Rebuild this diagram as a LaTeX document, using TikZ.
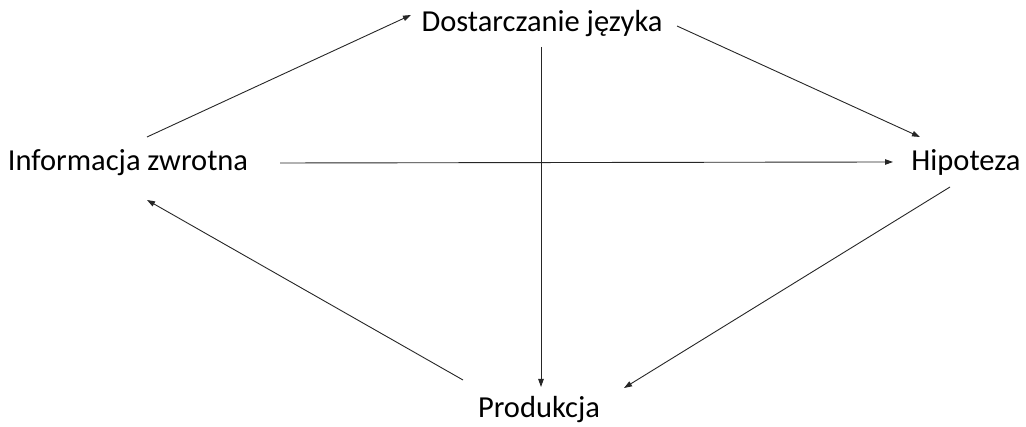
\documentclass[tikz,border=0pt]{standalone}
\usepackage{fontspec}
\setmainfont{Carlito}
\usetikzlibrary{arrows.meta}
\begin{document}
\begin{tikzpicture}[x=1pt,y=1pt,
  lbl/.style={inner sep=0pt, font=\fontsize{30.5}{36}\selectfont},
  arr/.style={-{Triangle[length=8pt,width=5.5pt]}, line width=0.9pt, black!85}]
\useasboundingbox (0,0) rectangle (1026,427);
\node[lbl] (info) at (128,264) {Informacja zwrotna};
\node[lbl] (dost) at (542,403) {Dostarczanie języka};
\node[lbl] (hip)  at (966,265) {Hipoteza};
\node[lbl] (prod) at (539,17)  {Produkcja};
\draw[arr] ([shift={(19,26)}]info.center) -- ([shift={(-131,9)}]dost.center);
\draw[arr] ([shift={(135,-2)}]dost.center) -- ([shift={(-46,25)}]hip.center);
\draw[arr] ([shift={(152,0)}]info.center) -- ([shift={(-73,0)}]hip.center);
\draw[arr] ([shift={(-1,-23)}]dost.center) -- ([shift={(2,23)}]prod.center);
\draw[arr] ([shift={(-16,-25)}]hip.center) -- ([shift={(85,22)}]prod.center);
\draw[arr] ([shift={(-76,30)}]prod.center) -- ([shift={(19,-37)}]info.center);
\end{tikzpicture}
\end{document}
